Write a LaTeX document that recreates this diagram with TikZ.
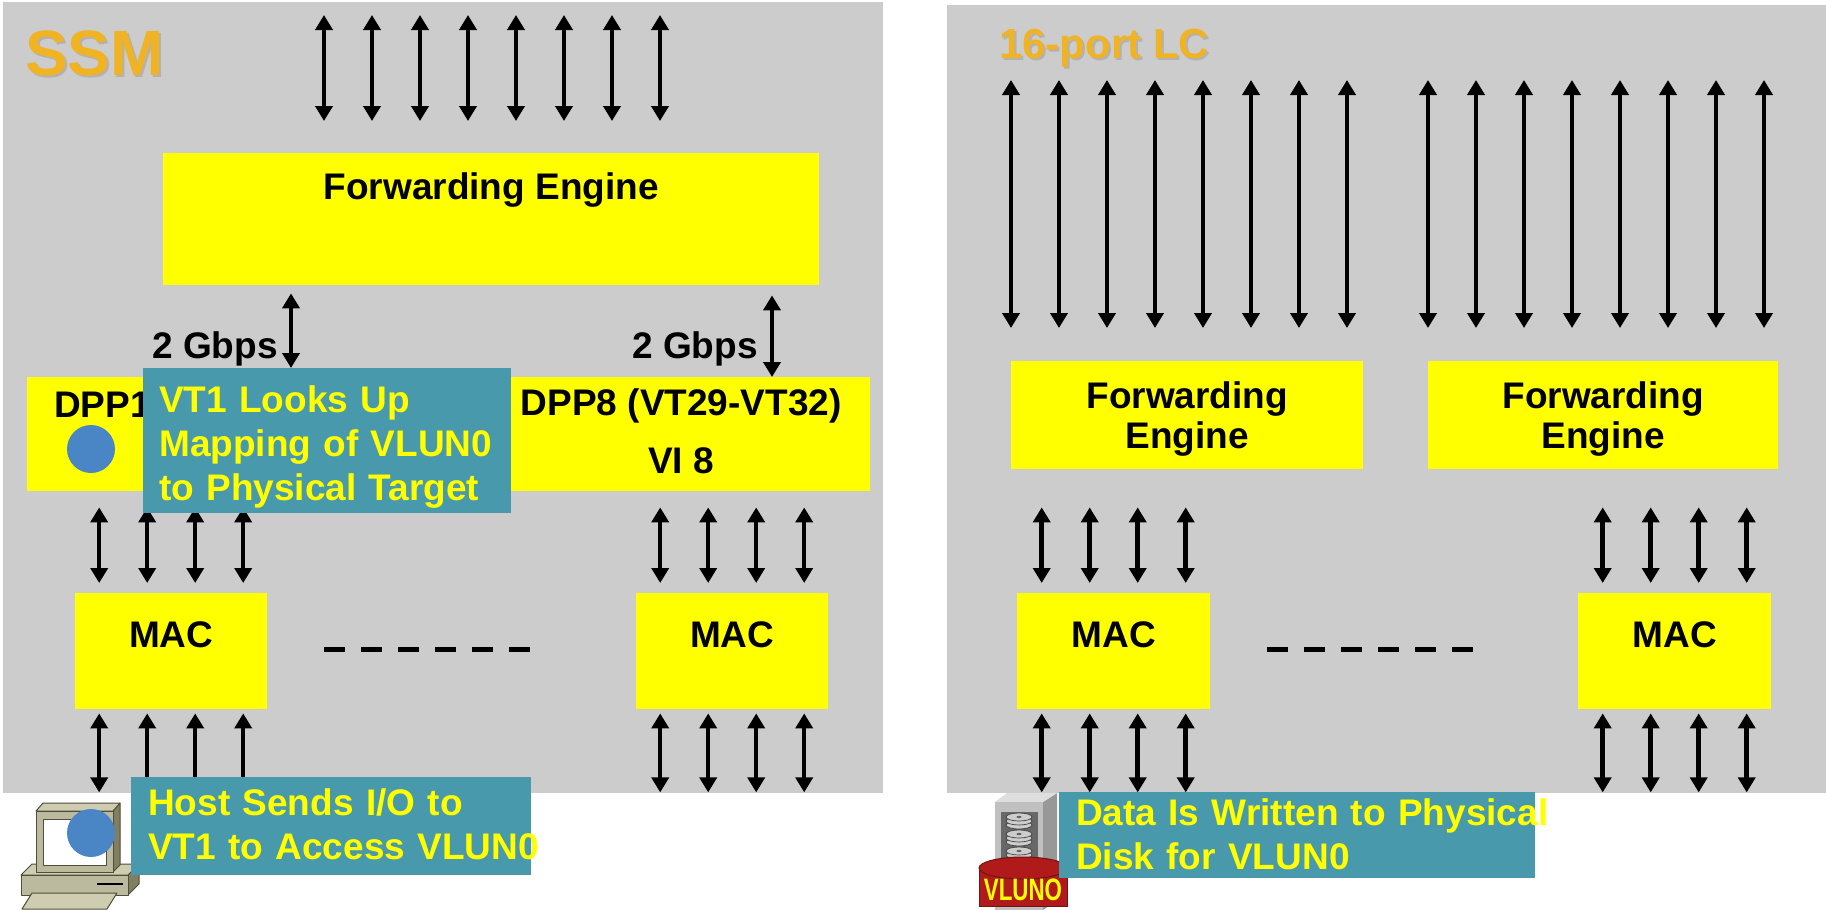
\documentclass[tikz,border=0pt]{standalone}
\usepackage{fontspec}
\setmainfont{Liberation Sans}
\usetikzlibrary{arrows.meta,positioning,calc}
\definecolor{chassisgray}{RGB}{204,204,204}
\definecolor{boxyellow}{RGB}{255,255,0}
\definecolor{noteteal}{RGB}{72,153,171}
\definecolor{titleorange}{RGB}{240,179,35}
\definecolor{titleshadow}{RGB}{178,178,178}
\definecolor{dotblue}{RGB}{74,134,197}
\definecolor{pcfront}{RGB}{187,186,158}
\definecolor{pctop}{RGB}{206,205,178}
\definecolor{pcside}{RGB}{128,127,98}
\definecolor{pcline}{RGB}{78,78,58}
\definecolor{diskfront}{RGB}{192,192,192}
\definecolor{disktop}{RGB}{222,222,222}
\definecolor{diskside}{RGB}{152,152,152}
\definecolor{diskbay}{RGB}{104,104,104}
\definecolor{platter}{RGB}{205,205,205}
\definecolor{vlunred}{RGB}{176,26,26}
\definecolor{vlunedge}{RGB}{112,20,20}
\newcommand{\lbl}{\fontsize{37}{44}\selectfont\bfseries}
\newcommand{\ssmfont}{\fontsize{64}{64}\selectfont\bfseries}
\newcommand{\lcfont}{\fontsize{42}{42}\selectfont\bfseries}
\newcommand{\shadowed}[1]{\makebox[0pt][l]{\hspace{2pt}\raisebox{-2pt}{\color{titleshadow}#1}}#1}
\tikzstyle{panel} = [rectangle, fill=chassisgray, inner sep=0pt, anchor=north west]
\tikzstyle{chassis} = [anchor=base west, inner sep=0pt, text=titleorange]
\tikzstyle{block} = [rectangle, fill=boxyellow, inner sep=0pt, anchor=north west, font=\lbl, align=center]
\tikzstyle{note} = [rectangle, fill=noteteal, inner sep=0pt, anchor=north west, font=\lbl, text=boxyellow, align=left]
\tikzstyle{tag} = [anchor=base west, inner sep=0pt, font=\lbl]
\tikzstyle{dot} = [circle, fill=dotblue, inner sep=0pt, minimum size=48pt]
\tikzstyle{line} = [draw, line width=4.5pt, >={Triangle[width=17pt,length=15pt]}, <->]
\tikzstyle{dashrow} = [draw, line width=5pt, dash pattern=on 21pt off 16pt]

\begin{document}
\begin{tikzpicture}[x=1pt, y=1pt]
	\fill[white] (0,0) rectangle (1826,-910);
	\useasboundingbox (0,0) rectangle (1826,-910);

	% Chassis
	\node[panel, minimum width=880pt, minimum height=791pt] (ssm) at (3,-2) {};
	\node[panel, minimum width=879pt, minimum height=788pt] (lc) at (947,-5) {};
	\node[chassis, font=\ssmfont] (ssm-title) at (25,-75) {\shadowed{SSM}};
	\node[chassis, font=\lcfont] (lc-title) at (999,-58) {\shadowed{16-port LC}};

	% SSM blocks
	\node[block, minimum width=656pt, text height=46pt, text depth=86pt] (fe) at (163,-153) {Forwarding Engine};
	\node[block, minimum width=378pt, text width=324pt, align=left, text height=40pt, text depth=74pt] (dpp1) at (27,-377) {DPP1};
	\node[block, minimum width=378pt, text height=96pt, text depth=18pt] (dpp8) at (492,-377) {DPP8 (VT29-VT32)\\[14pt]VI 8};
	\node[block, minimum width=192pt, text height=54pt, text depth=62pt] (mac1) at (75,-593) {MAC};
	\node[block, minimum width=192pt, text height=54pt, text depth=62pt] (mac8) at (636,-593) {MAC};

	% Line card blocks
	\node[block, minimum width=352pt, text height=87pt, text depth=21pt] (lcfe1) at (1011,-361) {Forwarding\\[-4pt]Engine};
	\node[block, minimum width=350pt, text height=87pt, text depth=21pt] (lcfe2) at (1428,-361) {Forwarding\\[-4pt]Engine};
	\node[block, minimum width=193pt, text height=54pt, text depth=62pt] (lcmac1) at (1017,-593) {MAC};
	\node[block, minimum width=193pt, text height=54pt, text depth=62pt] (lcmac2) at (1578,-593) {MAC};

	% Fabric ports
	\foreach \dx in {161,209,...,497}
		\draw[line, shorten <=13pt, shorten >=32pt] ([xshift=\dx pt]fe.north west |- ssm.north) -- ([xshift=\dx pt]fe.north west);
	\foreach \dx in {0,48,...,336} {
		\draw[line, shorten <=75pt, shorten >=33pt] ([xshift=\dx pt]lcfe1.north west |- lc.north) -- ([xshift=\dx pt]lcfe1.north west);
		\draw[line, shorten <=75pt, shorten >=33pt] ([xshift=\dx pt]lcfe2.north west |- lc.north) -- ([xshift=\dx pt]lcfe2.north west);
	}

	% 2 Gbps links
	\draw[line, shorten <=8pt, shorten >=9pt] ([xshift=128pt]fe.south west) -- ([xshift=128pt]fe.south west |- dpp1.north);
	\draw[line, shorten <=10pt] ([xshift=609pt]fe.south west) -- ([xshift=609pt]fe.south west |- dpp8.north);
	\node[tag] (gbps1) at (152,-358) {2 Gbps};
	\node[tag] (gbps8) at (632,-358) {2 Gbps};

	% MAC ports
	\foreach \dx in {-72,-24,24,72} {
		\draw[line, shorten <=16pt, shorten >=10pt] ([xshift=\dx pt]mac1.north |- dpp1.south) -- ([xshift=\dx pt]mac1.north);
		\draw[line, shorten <=16pt, shorten >=10pt] ([xshift=\dx pt]mac8.north |- dpp8.south) -- ([xshift=\dx pt]mac8.north);
		\draw[line, shorten <=38pt, shorten >=10pt] ([xshift=\dx pt]lcmac1.north |- lcfe1.south) -- ([xshift=\dx pt]lcmac1.north);
		\draw[line, shorten <=38pt, shorten >=10pt] ([xshift=\dx pt]lcmac2.north |- lcfe2.south) -- ([xshift=\dx pt]lcmac2.north);
		\draw[line, shorten <=4pt, shorten >=1pt] ([xshift=\dx pt]mac1.south) -- ([xshift=\dx pt]mac1.south |- ssm.south);
		\draw[line, shorten <=4pt, shorten >=1pt] ([xshift=\dx pt]mac8.south) -- ([xshift=\dx pt]mac8.south |- ssm.south);
		\draw[line, shorten <=4pt, shorten >=1pt] ([xshift=\dx pt]lcmac1.south) -- ([xshift=\dx pt]lcmac1.south |- lc.south);
		\draw[line, shorten <=4pt, shorten >=1pt] ([xshift=\dx pt]lcmac2.south) -- ([xshift=\dx pt]lcmac2.south |- lc.south);
	}
	\draw[dashrow, shorten <=57pt, shorten >=105pt] ([yshift=2pt]mac1.east) -- ([yshift=2pt]mac8.west);
	\draw[dashrow, shorten <=57pt, shorten >=105pt] ([yshift=2pt]lcmac1.east) -- ([yshift=2pt]lcmac2.west);

	% VT1 lookup
	\node[dot] (vt1) at (91,-449) {};
	\node[note, minimum width=368pt, text width=336pt, text height=44pt, text depth=101pt] (lookup) at (143,-368) {VT1 Looks Up\\Mapping of VLUN0\\to Physical Target};

	% Host workstation
	\begin{scope}[draw=pcline, line width=1pt, line join=round]
		\filldraw[fill=pcside] (128,-875) -- (139,-864) -- (139,-884) -- (128,-895) -- cycle;
		\filldraw[fill=pctop] (21,-875) -- (32,-864) -- (139,-864) -- (128,-875) -- cycle;
		\filldraw[fill=pcfront] (21,-875) rectangle (128,-895);
		\draw[line width=2pt, black] (97,-884) -- (123,-884);
		\filldraw[fill=pctop] (22,-909) -- (32,-893) -- (117,-893) -- (107,-909) -- cycle;
		\filldraw[fill=pcside] (113,-811) -- (120,-803) -- (120,-865) -- (113,-872) -- cycle;
		\filldraw[fill=pctop] (36,-811) -- (43,-803) -- (120,-803) -- (113,-811) -- cycle;
		\filldraw[fill=pcfront] (36,-811) rectangle (113,-872);
		\filldraw[fill=white] (43,-819) rectangle (106,-865);
	\end{scope}
	\node[dot] (host) at (91,-833) {};
	\node[note, minimum width=400pt, text width=366pt, text height=38pt, text depth=60pt] (sendio) at (131,-777) {Host Sends I/O to\\\mbox{VT1 to Access VLUN0}};

	% Physical disk
	\fill[diskside] (1043,-802) -- (1057,-793) -- (1057,-900) -- (1043,-910) -- cycle;
	\fill[disktop] (995,-802) -- (1007,-793) -- (1057,-793) -- (1043,-802) -- cycle;
	\fill[diskfront] (995,-802) rectangle (1043,-910);
	\fill[diskbay] (1001,-812) rectangle (1038,-880);
	\foreach \y in {817,834,851}
		\foreach \k in {2,1,0} {
			\filldraw[fill=platter, draw=black!75, line width=0.7pt] (1019,-\y-\k*4) ellipse (13 and 4);
			\fill[black!60] (1019,-\y) ellipse (2.5 and 1.2);
		}
	\filldraw[fill=vlunred, draw=vlunedge, line width=1pt] (979,-868) rectangle (1067,-906);
	\filldraw[fill=vlunred, draw=vlunedge, line width=1pt] (1023,-868) ellipse (44 and 11);
	\node[anchor=base, inner sep=0pt, text=boxyellow, font=\fontsize{31}{31}\selectfont\bfseries] (vlun0) at (1023,-900) {\scalebox{0.72}[1]{VLUNO}};
	\node[note, minimum width=476pt, text width=442pt, text height=33pt, text depth=53pt] (written) at (1059,-792) {\mbox{Data Is Written to Physical}\\Disk for VLUN0};
\end{tikzpicture}
\end{document}
